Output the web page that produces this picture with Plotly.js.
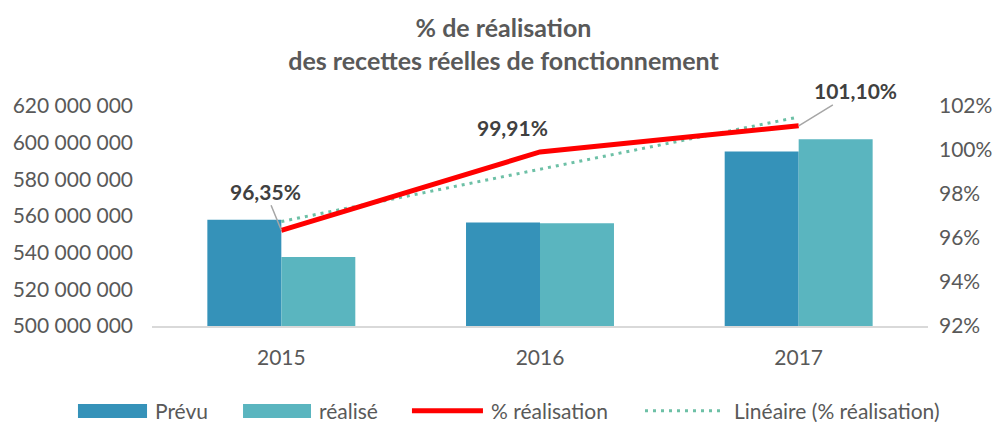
<!DOCTYPE html>
<html>
<head>
<meta charset="utf-8">
<script src="https://cdn.plot.ly/plotly-3.0.1.min.js"></script>
<style>html,body{margin:0;padding:0;background:#fff;}#chart{width:1003px;height:422px;}</style>
</head>
<body>
<div id="chart"></div>
<script>
const years = ['2015', '2016', '2017'];
const prevu = [558000000, 556500000, 595200000];
const realise = [537600000, 556000000, 601800000];
const tauxRealisation = [96.35, 99.91, 101.10];
const tendanceLineaire = [96.75, 99.12, 101.50];
const tauxLabels = ['96,35%', '99,91%', '101,10%'];
const leftTicks = [500000000, 520000000, 540000000, 560000000, 580000000, 600000000, 620000000];
const rightTicks = [92, 94, 96, 98, 100, 102];
const rightTickLabels = ['92%', '94%', '96%', '98%', '100%', '102%'];
const seriesNames = ['Prévu', 'réalisé', '% réalisation', 'Linéaire (% réalisation)'];
const titleLines = ['% de réalisation', 'des recettes réelles de fonctionnement'];

const C_PREVU = '#3592B9';
const C_REAL = '#5AB5BF';
const C_RED = '#FF0000';
const C_TREND = '#6DC0A6';
const FONT = 'Lato, "Open Sans", sans-serif';
const TREND_DASH = '3px,5px';

const traces = [
  {type: 'bar', name: seriesNames[0], x: years, y: prevu, marker: {color: C_PREVU}, yaxis: 'y'},
  {type: 'bar', name: seriesNames[1], x: years, y: realise, marker: {color: C_REAL}, yaxis: 'y'},
  {type: 'scatter', mode: 'lines', name: seriesNames[3], x: years, y: tendanceLineaire, yaxis: 'y2',
   line: {color: C_TREND, width: 3, dash: TREND_DASH}},
  {type: 'scatter', mode: 'lines', name: seriesNames[2], x: years, y: tauxRealisation, yaxis: 'y2',
   line: {color: C_RED, width: 5}}
];

const labelFont = {family: FONT, size: 21, color: '#404040'};
const annotations = [
  {x: 0, y: tauxRealisation[0], xref: 'x', yref: 'y2', text: '<b>' + tauxLabels[0] + '</b>',
   showarrow: true, arrowhead: 0, arrowwidth: 1.5, arrowcolor: '#A6A6A6', ax: -16, ay: -39, font: labelFont},
  {x: 1, y: tauxRealisation[1], xref: 'x', yref: 'y2', text: '<b>' + tauxLabels[1] + '</b>',
   showarrow: false, xshift: -28, yshift: 24, font: labelFont},
  {x: 2, y: tauxRealisation[2], xref: 'x', yref: 'y2', text: '<b>' + tauxLabels[2] + '</b>',
   showarrow: true, arrowhead: 0, arrowwidth: 1.5, arrowcolor: '#A6A6A6', ax: 57, ay: -35, font: labelFont}
];

// custom legend (paper coords)
const legY = -0.385;
const legFont = {family: FONT, size: 21, color: '#595959'};
const legTextX = [0.0013, 0.2126, 0.4343, 0.7474];
for (let i = 0; i < 4; i++) {
  annotations.push({xref: 'paper', yref: 'paper', x: legTextX[i], y: legY, xanchor: 'left', yanchor: 'middle',
    text: seriesNames[i], showarrow: false, font: legFont});
}
const shapes = [
  {type: 'rect', xref: 'paper', yref: 'paper', x0: -0.0954, x1: -0.0064, y0: -0.3545, y1: -0.418, fillcolor: C_PREVU, line: {width: 0}},
  {type: 'rect', xref: 'paper', yref: 'paper', x0: 0.1173, x1: 0.2049, y0: -0.3545, y1: -0.418, fillcolor: C_REAL, line: {width: 0}},
  {type: 'line', xref: 'paper', yref: 'paper', x0: 0.335, x1: 0.4265, y0: legY, y1: legY, line: {color: C_RED, width: 5}},
  {type: 'line', xref: 'paper', yref: 'paper', x0: 0.6353, x1: 0.732, y0: legY, y1: legY, line: {color: C_TREND, width: 3, dash: TREND_DASH}}
];

const tickFont = {family: FONT, size: 21, color: '#595959'};
const layout = {
  width: 1003, height: 422,
  margin: {l: 152, r: 75, t: 106, b: 96},
  paper_bgcolor: '#fff', plot_bgcolor: '#fff',
  separators: ', ',
  showlegend: false,
  barmode: 'group', bargap: 0.428, bargroupgap: 0,
  title: {
    text: '<b>' + titleLines[0] + '</b><br><b>' + titleLines[1] + '</b>',
    font: {family: FONT, size: 25, color: '#595959'},
    x: 0.502, xanchor: 'center', y: 0.912, yanchor: 'top'
  },
  xaxis: {type: 'category', range: [-0.5, 2.5], showgrid: false, showline: true, linecolor: '#D9D9D9', linewidth: 2,
    ticks: '', tickfont: tickFont, ticklabelstandoff: 12, zeroline: false},
  yaxis: {range: [500000000, 620000000], tickvals: leftTicks, tickformat: ',d', showgrid: false,
    zeroline: false, showline: false, ticks: '', tickfont: tickFont, ticklabelstandoff: 18},
  yaxis2: {range: [92, 102], tickvals: rightTicks, ticktext: rightTickLabels, overlaying: 'y', side: 'right',
    showgrid: false, zeroline: false, showline: false, ticks: '', tickfont: tickFont, ticklabelstandoff: 10},
  annotations: annotations,
  shapes: shapes,
  font: {family: FONT}
};

Plotly.newPlot('chart', traces, layout, {displayModeBar: false, staticPlot: true});
</script>
</body>
</html>
